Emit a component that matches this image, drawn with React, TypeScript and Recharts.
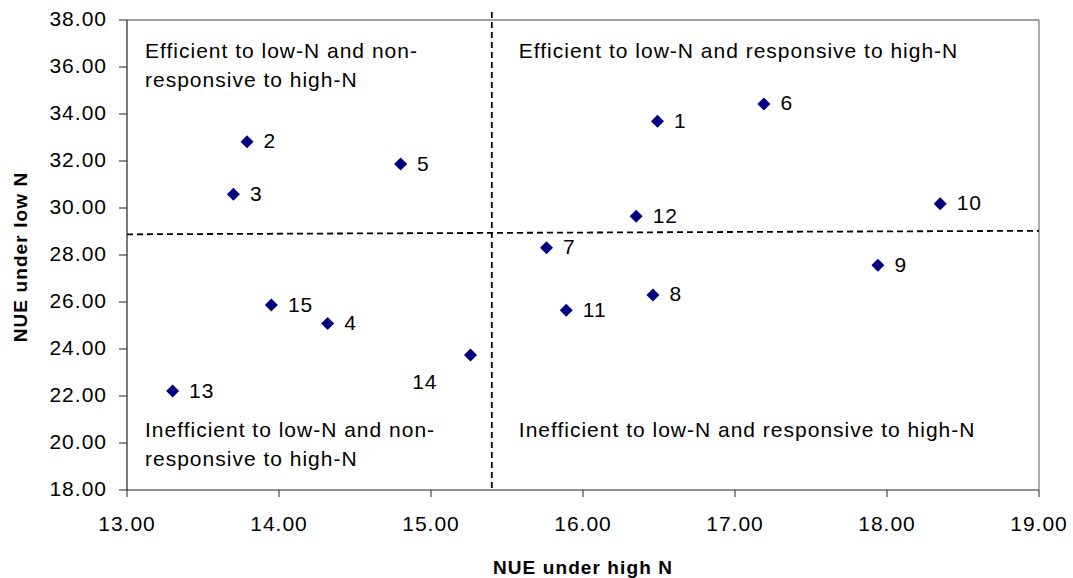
import React from 'react';
import { ScatterChart, Scatter, XAxis, YAxis, ReferenceLine, ReferenceArea, Label } from 'recharts';

const genotypes = ['1', '2', '3', '4', '5', '6', '7', '8', '9', '10', '11', '12', '13', '14', '15'];
const nueHigh = [16.49, 13.79, 13.70, 14.32, 14.80, 17.19, 15.76, 16.46, 17.94, 18.35, 15.89, 16.35, 13.30, 15.26, 13.95];
const nueLow = [33.69, 32.82, 30.58, 25.08, 31.87, 34.43, 28.31, 26.30, 27.56, 30.18, 25.65, 29.65, 22.21, 23.74, 25.87];

const xTicks = [13, 14, 15, 16, 17, 18, 19];
const yTicks = [18, 20, 22, 24, 26, 28, 30, 32, 34, 36, 38];

const xSplit = 15.4;
const ySplitLeft = 28.88;
const ySplitRight = 29.03;
const ySplit = 28.9;
const verticalTop = 38.34;

const quadTopLeft = ['Efficient to low-N and non-', 'responsive to high-N'];
const quadTopRight = ['Efficient to low-N and responsive to high-N'];
const quadBottomLeft = ['Inefficient to low-N and non-', 'responsive to high-N'];
const quadBottomRight = ['Inefficient to low-N and responsive to high-N'];

const xTitle = 'NUE under high N';
const yTitle = 'NUE under low N';

const points = genotypes.map((id, i) => ({ id, x: nueHigh[i], y: nueLow[i] }));

const FONT = '"Liberation Sans", Arial, sans-serif';
const FS = 21;
const LS = 1.0;

const XTick = (props: any) => {
  const { x, y, payload } = props;
  return (
    <text x={x} y={y} dy={15} textAnchor="middle" fill="#000" fontSize={FS} fontFamily={FONT} letterSpacing={LS}>
      {Number(payload.value).toFixed(2)}
    </text>
  );
};

const YTick = (props: any) => {
  const { x, y, payload } = props;
  return (
    <text x={x} y={y} dy={5.5} textAnchor="end" fill="#000" fontSize={FS} fontFamily={FONT} letterSpacing={LS}>
      {Number(payload.value).toFixed(2)}
    </text>
  );
};

const QuadText = (props: any) => {
  const { viewBox, lines, dx, fromBottom } = props;
  const { x, y, height } = viewBox;
  const lh = 29;
  return (
    <text fill="#000" fontSize={FS} fontFamily={FONT} letterSpacing={LS}>
      {lines.map((l: string, i: number) => (
        <tspan key={i} x={x + dx} y={fromBottom ? y + height - 53 + i * lh : y + 38 + i * lh}>
          {l}
        </tspan>
      ))}
    </text>
  );
};

const Diamond = (props: any) => {
  const { cx, cy, payload } = props;
  const r = 6.5;
  const id = payload.id;
  const below = id === '14';
  return (
    <g>
      <path d={`M${cx},${cy - r}L${cx + r},${cy}L${cx},${cy + r}L${cx - r},${cy}Z`} fill="#000080" />
      <text
        x={below ? cx - 33 : cx + 16.5}
        y={below ? cy + 34 : cy + 6.5}
        textAnchor={below ? 'end' : 'start'}
        fill="#000"
        fontSize={FS}
        fontFamily={FONT}
        letterSpacing={LS}
      >
        {id}
      </text>
    </g>
  );
};

export default function App() {
  return (
    <div style={{ position: 'absolute', left: 0, top: 0, width: 1073, height: 578, background: '#fff' }}>
      <ScatterChart width={1073} height={578} margin={{ top: 20, right: 34, bottom: 28, left: 27 }}>
        <XAxis
          type="number"
          dataKey="x"
          domain={[13, 19]}
          ticks={xTicks}
          allowDataOverflow
          height={60}
          tickSize={7}
          tickMargin={19}
          tick={<XTick />}
          axisLine={{ stroke: '#222', strokeWidth: 1.2 }}
          tickLine={{ stroke: '#222' }}
        >
          <Label
            content={(p: any) => {
              const vb = p.viewBox;
              return (
                <text x={vb.x + vb.width / 2} y={574} textAnchor="middle" fontWeight="bold" fontSize={19} fontFamily={FONT} letterSpacing={1.1} fill="#000">
                  {xTitle}
                </text>
              );
            }}
          />
        </XAxis>
        <YAxis
          type="number"
          dataKey="y"
          domain={[18, 38]}
          ticks={yTicks}
          allowDataOverflow
          width={100}
          tickSize={8}
          tickMargin={12}
          tick={<YTick />}
          axisLine={{ stroke: '#222', strokeWidth: 1.2 }}
          tickLine={{ stroke: '#222' }}
        >
          <Label
            content={(p: any) => {
              const vb = p.viewBox;
              const cy = vb.y + vb.height / 2 + 2;
              return (
                <text x={27} y={cy} transform={`rotate(-90, 27, ${cy})`} textAnchor="middle" fontWeight="bold" fontSize={19} fontFamily={FONT} letterSpacing={1.1} fill="#000">
                  {yTitle}
                </text>
              );
            }}
          />
        </YAxis>
        <ReferenceLine y={38} stroke="#808080" strokeWidth={1.3} />
        <ReferenceLine x={19} stroke="#808080" strokeWidth={1.3} />
        <ReferenceArea x1={13} x2={xSplit} y1={ySplit} y2={38} fill="none" stroke="none" label={<QuadText lines={quadTopLeft} dx={18} />} />
        <ReferenceArea x1={xSplit} x2={19} y1={ySplit} y2={38} fill="none" stroke="none" label={<QuadText lines={quadTopRight} dx={27} />} />
        <ReferenceArea x1={13} x2={xSplit} y1={18} y2={ySplit} fill="none" stroke="none" label={<QuadText lines={quadBottomLeft} dx={18} fromBottom />} />
        <ReferenceArea x1={xSplit} x2={19} y1={18} y2={ySplit} fill="none" stroke="none" label={<QuadText lines={quadBottomRight} dx={27} fromBottom />} />
        <ReferenceLine
          segment={[{ x: 13, y: ySplitLeft }, { x: 19, y: ySplitRight }]}
          stroke="#000"
          strokeWidth={1.8}
          strokeDasharray="6 4"
          ifOverflow="visible"
        />
        <ReferenceLine
          segment={[{ x: xSplit, y: verticalTop }, { x: xSplit, y: 18 }]}
          stroke="#000"
          strokeWidth={1.8}
          strokeDasharray="6 4"
          ifOverflow="visible"
        />
        <Scatter data={points} shape={<Diamond />} isAnimationActive={false} />
      </ScatterChart>
    </div>
  );
}
